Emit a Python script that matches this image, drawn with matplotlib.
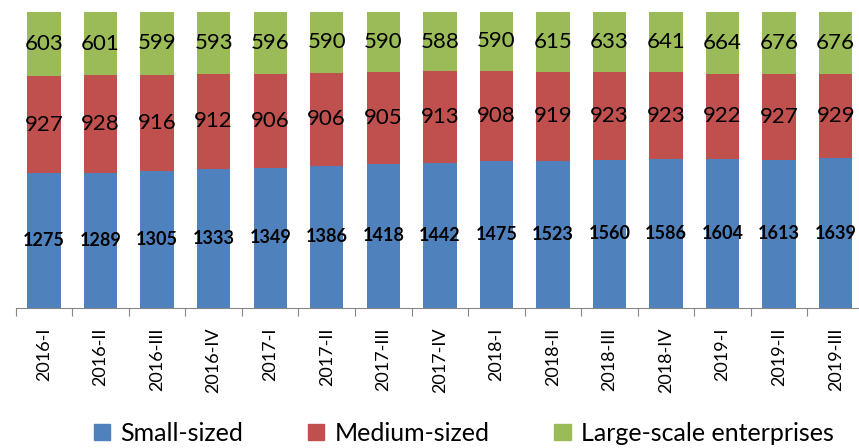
import matplotlib.pyplot as plt
from matplotlib.patches import Patch

plt.rcParams['font.family'] = ['Lato', 'DejaVu Sans']

quarters = ['2016-I', '2016-II', '2016-III', '2016-IV',
            '2017-I', '2017-II', '2017-III', '2017-IV',
            '2018-I', '2018-II', '2018-III', '2018-IV',
            '2019-I', '2019-II', '2019-III']
small = [1275, 1289, 1305, 1333, 1349, 1386, 1418, 1442, 1475, 1523, 1560, 1586, 1604, 1613, 1639]
medium = [927, 928, 916, 912, 906, 906, 905, 913, 908, 919, 923, 923, 922, 927, 929]
large = [603, 601, 599, 593, 596, 590, 590, 588, 590, 615, 633, 641, 664, 676, 676]

series_names = ['Small-sized', 'Medium-sized', 'Large-scale enterprises']
colors = ['#4F81BD', '#C0504D', '#9BBB59']

fig = plt.figure(figsize=(8.59, 4.48), dpi=100)
ax = fig.add_axes([0.0183, 0.3125, 0.9875, 0.6607])

x = list(range(len(quarters)))
totals = [s + m + l for s, m, l in zip(small, medium, large)]
bottom = [0.0] * len(x)
for vals, col, name in zip([small, medium, large], colors, series_names):
    share = [v / t for v, t in zip(vals, totals)]
    ax.bar(x, share, width=0.59, bottom=bottom, color=col, label=name)
    for xi, b, h, v in zip(x, bottom, share, vals):
        if col == colors[0]:
            ax.text(xi, b + h / 2, str(v), ha='center', va='center',
                    fontsize=13, fontweight='bold', color='black')
        else:
            ax.text(xi, b + h / 2, str(v), ha='center', va='center',
                    fontsize=16, color='black')
    bottom = [b + h for b, h in zip(bottom, share)]

ax.set_xlim(-0.5, len(x) - 0.5)
ax.set_ylim(0, 1)
for s in ['top', 'right', 'left']:
    ax.spines[s].set_visible(False)
ax.spines['bottom'].set_color('#868686')
ax.set_yticks([])

# ticks sit on category boundaries, labels in the middle
ax.set_xticks([i - 0.5 for i in range(len(x) + 1)])
ax.set_xticklabels([])
ax.set_xticks(x, minor=True)
ax.set_xticklabels(quarters, minor=True, rotation=90, fontsize=13)
ax.tick_params(axis='x', which='major', length=6, color='#868686')
ax.tick_params(axis='x', which='minor', length=0, pad=14)

handles = [Patch(color=c) for c in colors]
fig.legend(handles, series_names, loc='center', bbox_to_anchor=(0.54, 0.033),
           ncol=3, frameon=False, fontsize=18, handlelength=0.65,
           handleheight=0.65, handletextpad=0.4, columnspacing=2.6)

fig.savefig('out.png', dpi=100)
